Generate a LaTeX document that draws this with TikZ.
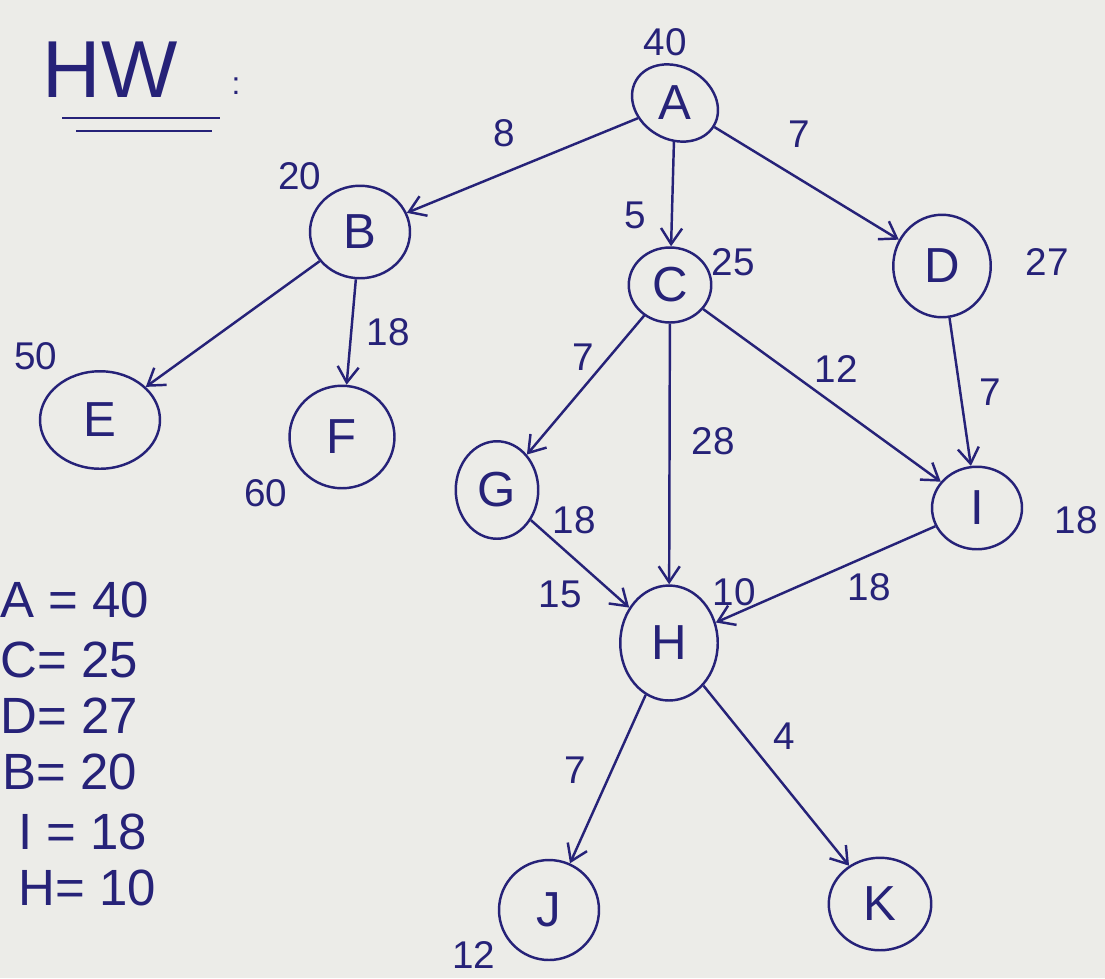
\documentclass[tikz,border=0pt]{standalone}
\usepackage{fontspec}
\setmainfont{Liberation Sans}
\usetikzlibrary{shapes.geometric,arrows.meta,positioning}
\definecolor{ink}{RGB}{38,34,120}
\definecolor{paper}{RGB}{236,236,232}
\tikzset{
  vtx/.style={ellipse, draw=ink, line width=1.4pt, inner sep=0pt, text=ink, font=\fontsize{28}{30}\selectfont},
  edge/.style={draw=ink, line width=1.4pt, -{Straight Barb[length=9pt,width=12pt,line width=1.4pt]}},
  lbl/.style={text=ink, font=\fontsize{22}{24}\selectfont, inner sep=0pt},
  lst/.style={text=ink, font=\fontsize{29}{31}\selectfont, inner sep=0pt, anchor=west},
}
\begin{document}
\begin{tikzpicture}[x=0.02cm,y=-0.02cm]
\fill[paper] (0,0) rectangle (1105,978);
\useasboundingbox (0,0) rectangle (1105,978);

% title
\node[text=ink, font=\fontsize{46}{48}\selectfont, inner sep=0pt] (hw) at (110,70) {HW};
\node[text=ink, font=\fontsize{18}{20}\selectfont, inner sep=0pt] (colon) at (236,86) {:};
\coordinate (u1a) at (62,118); \coordinate (u1b) at (220,118);
\coordinate (u2a) at (76,131); \coordinate (u2b) at (212,131);
\draw[ink, line width=1.4pt] (u1a) -- (u1b);
\draw[ink, line width=1.4pt] (u2a) -- (u2b);

% vertices
\node[vtx, minimum width=1.8cm, minimum height=1.45cm, rotate=-30] (A) at (675,103) {\rotatebox{30}{A}};
\node[vtx, minimum width=2.0cm, minimum height=1.85cm] (B) at (360,232) {B};
\node[vtx, minimum width=1.65cm, minimum height=1.5cm] (C) at (670,285) {C};
\node[vtx, minimum width=1.95cm, minimum height=2.05cm] (D) at (942,266) {D};
\node[vtx, minimum width=2.4cm, minimum height=1.95cm] (E) at (100,420) {E};
\node[vtx, minimum width=2.1cm, minimum height=2.05cm] (F) at (342,437) {F};
\node[vtx, minimum width=1.65cm, minimum height=1.95cm] (G) at (497,490) {G};
\node[vtx, minimum width=1.8cm, minimum height=1.65cm] (I) at (977,508) {I};
\node[vtx, minimum width=1.95cm, minimum height=2.3cm] (H) at (669,643) {H};
\node[vtx, minimum width=2.0cm, minimum height=2.0cm] (J) at (549,910) {J};
\node[vtx, minimum width=2.05cm, minimum height=1.85cm] (K) at (880,904) {K};

% heuristic values
\node[lbl] (hA) at (665,42) {40};
\node[lbl] (hB) at (300,176) {20};
\node[lbl] (hC) at (733,262) {25};
\node[lbl] (hD) at (1047,262) {27};
\node[lbl] (hE) at (36,356) {50};
\node[lbl] (hF) at (266,493) {60};
\node[lbl] (hG) at (574,520) {18};
\node[lbl] (hI) at (1076,520) {18};
\node[lbl] (hH) at (734,592) {10};
\node[lbl] (hJ) at (474,955) {12};

% edges
\draw[edge] (A) -- node[lbl, pos=0.58, above=14pt] {8} (B);
\draw[edge] (A) -- node[lbl, pos=0.7, left=14pt] {5} (C);
\draw[edge] (A) -- node[lbl, pos=0.32, above right=8pt and 8pt] {7} (D);
\draw[edge] (B) -- (E);
\draw[edge] (B) -- node[lbl, pos=0.5, right=8pt] {18} (F);
\draw[edge] (C) -- node[lbl, pos=0.3, left=8pt] {7} (G);
\draw[edge] (C) -- node[lbl, pos=0.45, right=12pt] {28} (H);
\draw[edge] (C) -- node[lbl, pos=0.45, above right=2pt and 2pt] {12} (I);
\draw[edge] (D) -- node[lbl, pos=0.5, right=10pt] {7} (I);
\draw[edge] (G) -- node[lbl, pos=0.6, below left=4pt and 4pt] {15} (H);
\draw[edge] (I) -- node[lbl, pos=0.3, below=10pt] {18} (H);
\draw[edge] (H) -- node[lbl, pos=0.45, left=14pt] {7} (J);
\draw[edge] (H) -- node[lbl, pos=0.4, above right=4pt and 6pt] {4} (K);

% list
\node[lst] (l1) at (0,600) {A = 40};
\node[lst] (l2) at (0,660) {C= 25};
\node[lst] (l3) at (0,716) {D= 27};
\node[lst] (l4) at (2,772) {B= 20};
\node[lst] (l5) at (18,832) {I = 18};
\node[lst] (l6) at (18,888) {H= 10};
\end{tikzpicture}
\end{document}
